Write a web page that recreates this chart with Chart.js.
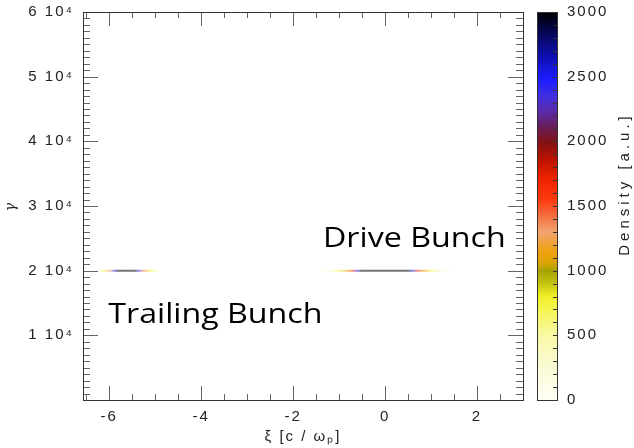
<!DOCTYPE html>
<html>
<head>
<meta charset="utf-8">
<script src="https://cdn.jsdelivr.net/npm/chart.js@4.4.1/dist/chart.umd.min.js"></script>
<style>
  html, body { margin: 0; padding: 0; background: #fff; }
  #wrap { width: 634px; height: 448px; }
</style>
</head>
<body>
<div id="wrap"><canvas id="c" width="634" height="448"></canvas></div>
<script>
// Longitudinal phase space of the beams: energy (gamma) against co-moving position xi,
// coloured by particle density.

// Axis ticks
const xiTicks = [-6, -4, -2, 0, 2];
const gammaTicks = [10000, 20000, 30000, 40000, 50000, 60000];
const gammaTickLabels = ['1 10⁴', '2 10⁴', '3 10⁴', '4 10⁴', '5 10⁴', '6 10⁴'];
const densityTicks = [0, 500, 1000, 1500, 2000, 2500, 3000];

// Drive bunch: density sampled along xi at its energy
const driveGamma = 20000;
const driveXi =      [-1.48, -1.2, -0.98, -0.82, -0.7, -0.6, -0.52, 0,    0.5,  0.6,  0.72, 0.85, 1.0, 1.2, 1.48];
const driveDensity = [0,     250,  700,   1100,  1600, 2400, 3000,  3000, 3000, 2400, 1600, 1100, 700, 250, 0];

// Trailing bunch
const trailGamma = 20000;
const trailXi =      [-6.25, -6.12, -5.98, -5.88, -5.8, -5.62, -5.45, -5.36, -5.27, -5.12, -4.98, -4.85];
const trailDensity = [0,     700,   1300,  2400,  3000, 3000,  3000,  2400,  1400,  800,   400,   0];

// Colour table for density
const cmap = [
  [0, '#fffff6'], [250, '#fbfbd6'], [500, '#f8f8a6'], [700, '#f5f550'], [800, '#f0f028'],
  [900, '#c4c410'], [1000, '#a6a200'], [1060, '#dca400'], [1150, '#f0a010'], [1300, '#f0a472'],
  [1420, '#f47040'], [1550, '#ff3a10'], [1700, '#f02400'], [1850, '#c01400'], [1980, '#861010'],
  [2100, '#6a1c50'], [2230, '#5a2aa8'], [2350, '#4030e0'], [2480, '#1c1cff'], [2650, '#1010b4'],
  [2820, '#060660'], [3000, '#000000']
];

const xiMinorStep = 0.5;
const gammaMinorStep = 1000;
const densityMinorStep = 100;

const annotations = [
  { text: 'Drive Bunch', xi: -1.35, gamma: 23660 },
  { text: 'Trailing Bunch', xi: -6.02, gamma: 11907 }
];

function hexToRgb(h) {
  const n = parseInt(h.slice(1), 16);
  return [(n >> 16) & 255, (n >> 8) & 255, n & 255];
}
function colorAt(v, alpha) {
  let c;
  if (v <= cmap[0][0]) c = hexToRgb(cmap[0][1]);
  else if (v >= cmap[cmap.length - 1][0]) c = hexToRgb(cmap[cmap.length - 1][1]);
  else {
    for (let i = 0; i < cmap.length - 1; i++) {
      const [v0, h0] = cmap[i], [v1, h1] = cmap[i + 1];
      if (v >= v0 && v <= v1) {
        const t = (v - v0) / (v1 - v0);
        const a = hexToRgb(h0), b = hexToRgb(h1);
        c = a.map((x, k) => Math.round(x + (b[k] - x) * t));
        break;
      }
    }
  }
  return `rgba(${c[0]},${c[1]},${c[2]},${alpha})`;
}

const bunches = [
  { xi: driveXi, density: driveDensity, gamma: driveGamma },
  { xi: trailXi, density: trailDensity, gamma: trailGamma }
];

function bunchGradient(ctx) {
  const chart = ctx.chart;
  if (!chart.chartArea) return 'rgba(0,0,0,0)';
  const b = bunches[ctx.datasetIndex];
  const xs = chart.scales.x;
  const x0 = xs.getPixelForValue(b.xi[0]);
  const x1 = xs.getPixelForValue(b.xi[b.xi.length - 1]);
  const g = chart.ctx.createLinearGradient(x0, 0, x1, 0);
  b.xi.forEach((v, i) => {
    g.addColorStop((xs.getPixelForValue(v) - x0) / (x1 - x0), colorAt(b.density[i], 0.55));
  });
  return g;
}

const TEXT = '#222';
const SPACING = '2px';

const letterSpacing = {
  id: 'letterSpacing',
  beforeUpdate(c) { c.ctx.letterSpacing = SPACING; },
  beforeLayout(c) { c.ctx.letterSpacing = SPACING; },
  beforeDraw(c) { c.ctx.letterSpacing = SPACING; }
};

function px(v) { return Math.round(v) + 0.5; }

const frameAndBar = {
  id: 'frameAndBar',
  afterDatasetsDraw(chart) {
    const { ctx, chartArea: { left, right, top, bottom }, scales: { x, y, cb } } = chart;
    ctx.save();

    // text labels on the plot
    ctx.letterSpacing = '0px';
    ctx.fillStyle = '#000';
    ctx.font = '28px "Open Sans", sans-serif';
    ctx.textBaseline = 'alphabetic';
    ctx.textAlign = 'left';
    annotations.forEach(a => {
      ctx.save();
      ctx.translate(x.getPixelForValue(a.xi), y.getPixelForValue(a.gamma));
      ctx.scale(1.15, 1);
      ctx.fillText(a.text, 0, 0);
      ctx.restore();
    });

    // frame ticks pointing inward
    ctx.strokeStyle = '#666';
    ctx.lineWidth = 1;
    ctx.beginPath();
    const xStart = Math.ceil(x.min / xiMinorStep) * xiMinorStep;
    for (let v = xStart; v <= x.max + 1e-9; v += xiMinorStep) {
      const isMajor = xiTicks.some(t => Math.abs(t - v) < 1e-6);
      const len = isMajor ? 14 : 6;
      const p = px(x.getPixelForValue(v));
      ctx.moveTo(p, bottom); ctx.lineTo(p, bottom - len);
      ctx.moveTo(p, top); ctx.lineTo(p, top + len);
    }
    for (let v = y.min; v <= y.max + 1e-6; v += gammaMinorStep) {
      const isMajor = gammaTicks.includes(v);
      const len = isMajor ? 15 : 7;
      const p = px(y.getPixelForValue(v));
      ctx.moveTo(left, p); ctx.lineTo(left + len, p);
      ctx.moveTo(right, p); ctx.lineTo(right - len, p);
    }
    ctx.stroke();

    // frame
    ctx.strokeStyle = '#333';
    ctx.strokeRect(px(left), px(top), Math.round(right - left), Math.round(bottom - top));

    // colour bar
    const bx0 = Math.round(right + 14), bx1 = Math.round(right + 34);
    const by0 = cb.getPixelForValue(cb.max), by1 = cb.getPixelForValue(cb.min);
    const grad = ctx.createLinearGradient(0, by1, 0, by0);
    cmap.forEach(([v, h]) => grad.addColorStop((cb.getPixelForValue(v) - by1) / (by0 - by1), h));
    ctx.fillStyle = grad;
    ctx.fillRect(bx0, by0, bx1 - bx0, by1 - by0);
    ctx.strokeStyle = '#333';
    ctx.strokeRect(bx0 + 0.5, px(by0), bx1 - bx0, Math.round(by1 - by0));
    ctx.beginPath();
    for (let v = cb.min + densityMinorStep; v < cb.max; v += densityMinorStep) {
      const p = px(cb.getPixelForValue(v));
      ctx.moveTo(bx1, p); ctx.lineTo(bx1 - 4, p);
    }
    ctx.stroke();

    // colour bar title
    ctx.letterSpacing = '4px';
    ctx.fillStyle = TEXT;
    ctx.font = '15px "Liberation Sans", Arial, sans-serif';
    ctx.textAlign = 'center';
    ctx.textBaseline = 'middle';
    ctx.translate(right + 102, (top + bottom) / 2 - 22);
    ctx.rotate(-Math.PI / 2);
    ctx.fillText('Density [a.u.]', 0, 0);
    ctx.restore();
  }
};

Chart.defaults.font.family = '"Liberation Sans", Arial, sans-serif';
Chart.defaults.font.size = 15;
Chart.defaults.color = TEXT;

// vertical axes: fixed width, no extra label overhang padding
function fixVertical(width) {
  return s => { s.width = width; s.paddingTop = 0; s.paddingBottom = 0; };
}

new Chart(document.getElementById('c'), {
  type: 'line',
  data: {
    datasets: bunches.map(b => ({
      data: b.xi.map(v => ({ x: v, y: b.gamma })),
      borderColor: bunchGradient,
      borderWidth: 2,
      pointRadius: 0,
      tension: 0,
      fill: false
    }))
  },
  options: {
    responsive: false,
    animation: false,
    devicePixelRatio: 1,
    layout: { padding: { top: 12, left: 0, right: 0, bottom: 0 } },
    plugins: { legend: { display: false }, tooltip: { enabled: false } },
    scales: {
      x: {
        type: 'linear', position: 'bottom', min: -6.57, max: 3.0,
        afterBuildTicks: s => { s.ticks = xiTicks.map(v => ({ value: v })); },
        afterFit: s => { s.height = 48; s.paddingLeft = 0; s.paddingRight = 0; },
        grid: { display: false, drawTicks: false },
        border: { display: false },
        ticks: { padding: 8, maxRotation: 0, autoSkip: false, callback: v => String(v) },
        title: { display: true, text: 'ξ [c / ωₚ]', padding: { top: 0, bottom: 2 } }
      },
      y: {
        type: 'linear', position: 'left', min: 0, max: 60000,
        afterBuildTicks: s => { s.ticks = gammaTicks.map(v => ({ value: v })); },
        afterFit: fixVertical(83),
        grid: { display: false, drawTicks: false },
        border: { display: false },
        ticks: { padding: 9, autoSkip: false, callback: v => gammaTickLabels[gammaTicks.indexOf(v)] },
        title: { display: true, text: 'γ', padding: { top: 3, bottom: 0 }, font: { family: '"DejaVu Serif", serif', style: 'italic', size: 14 } }
      },
      cb: {
        type: 'linear', position: 'right', min: 0, max: 3000,
        afterBuildTicks: s => { s.ticks = densityTicks.map(v => ({ value: v })); },
        afterFit: fixVertical(111),
        grid: { display: false, drawTicks: false },
        border: { display: false },
        ticks: { padding: 44, autoSkip: false, callback: v => String(v) }
      }
    }
  },
  plugins: [letterSpacing, frameAndBar]
});
</script>
</body>
</html>
